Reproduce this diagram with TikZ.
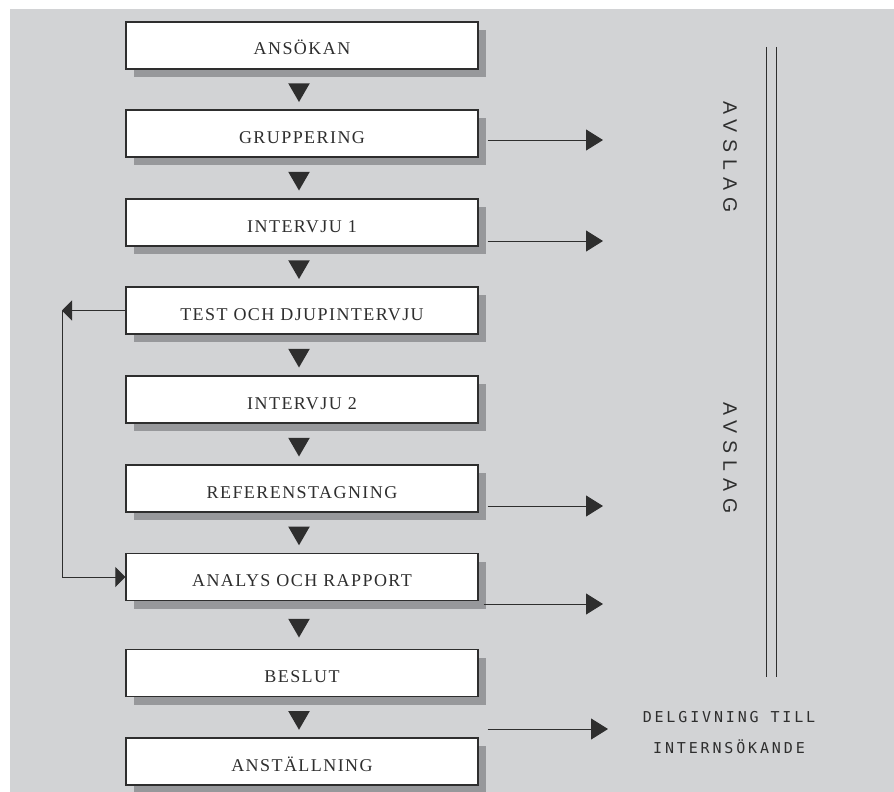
\documentclass[tikz,border=0pt]{standalone}
\usepackage{fontspec}
\setmainfont{Liberation Serif}
\newfontfamily\boxfont[LetterSpace=8]{Liberation Serif}
\newfontfamily\sidefont[LetterSpace=36]{Liberation Sans}
\newfontfamily\notefont[LetterSpace=19]{DejaVu Sans Mono}
\usetikzlibrary{arrows.meta,shapes.geometric,shadows,calc}

\definecolor{bggray}{HTML}{D2D3D5}
\definecolor{shadowgray}{HTML}{97989B}
\definecolor{inkgray}{HTML}{2E2E2E}

\tikzset{
  stepbox/.style={draw=inkgray, line width=1.2pt, fill=white,
    minimum width=352pt, minimum height=47pt, inner sep=2pt,
    text height=19pt, text depth=0pt, text=inkgray,
    font=\boxfont\fontsize{18}{20}\selectfont,
    drop shadow={fill=shadowgray, opacity=1, shadow xshift=8pt, shadow yshift=-8pt}},
  tri/.style={regular polygon, regular polygon sides=3, shape border rotate=180,
    fill=inkgray, inner sep=0pt, minimum size=25pt, xshift=-3pt},
  outarrow/.style={draw=inkgray, line width=1pt, -{Triangle[length=17pt,width=21pt]}},
  backarrow/.style={draw=inkgray, line width=1pt, -{Triangle[length=10pt,width=20pt]}},
  sidelabel/.style={rotate=-90, text=inkgray, font=\sidefont\fontsize{19.5}{22}\selectfont}
}

\begin{document}
\begin{tikzpicture}[x=1pt,y=-1pt]

\useasboundingbox (0,0) rectangle (894,792);
\fill[bggray] (10,9) rectangle (894,792);

% the steps
\node[stepbox] (b1) at (302,45.5) {ANSÖKAN};
\node[stepbox] (b2) at (302,133.5) {GRUPPERING};
\node[stepbox] (b3) at (302,222.5) {INTERVJU 1};
\node[stepbox] (b4) at (302,310.5) {TEST OCH DJUPINTERVJU};
\node[stepbox] (b5) at (302,399.5) {INTERVJU 2};
\node[stepbox] (b6) at (302,488.5) {REFERENSTAGNING};
\node[stepbox] (b7) at (302,577) {ANALYS OCH RAPPORT};
\node[stepbox] (b8) at (302,673) {BESLUT};
\node[stepbox] (b9) at (302,761.5) {ANSTÄLLNING};

\foreach \a/\b in {1/2,2/3,3/4,4/5,5/6,6/7,7/8,8/9}
  \node[tri] (t\a) at ($(b\a.south)!0.5!(b\b.north)$) {};

% loop back
\coordinate (fb) at (62,312);
\draw[backarrow] (b4.west) -- (b4.west -| fb);
\draw[backarrow] (b4.west -| fb) |- (b7.west);

% rejections
\coordinate (r1) at (603,140);
\coordinate (r2) at (603,241);
\coordinate (r3) at (603,506);
\coordinate (r4) at (603,604);
\coordinate (r5) at (608,729);
\draw[outarrow] (b2.east |- r1) ++(9,0) -- (r1);
\draw[outarrow] (b3.east |- r2) ++(9,0) -- (r2);
\draw[outarrow] (b6.east |- r3) ++(9,0) -- (r3);
\draw[outarrow] (b7.east |- r4) ++(5,0) -- (r4);
\draw[outarrow] (b8.east |- r5) ++(9,0) -- (r5);

\foreach \x in {766,776}
  \draw[inkgray, line width=0.9pt] (\x,47) -- (\x,677);

\node[sidelabel] (avs1) at (730,157) {AVSLAG};
\node[sidelabel] (avs2) at (730,458) {AVSLAG};

\node[text=inkgray, align=center, font=\notefont\fontsize{15}{31}\selectfont]
  (info) at (729,733) {DELGIVNING TILL\\INTERNSÖKANDE};

\end{tikzpicture}
\end{document}
